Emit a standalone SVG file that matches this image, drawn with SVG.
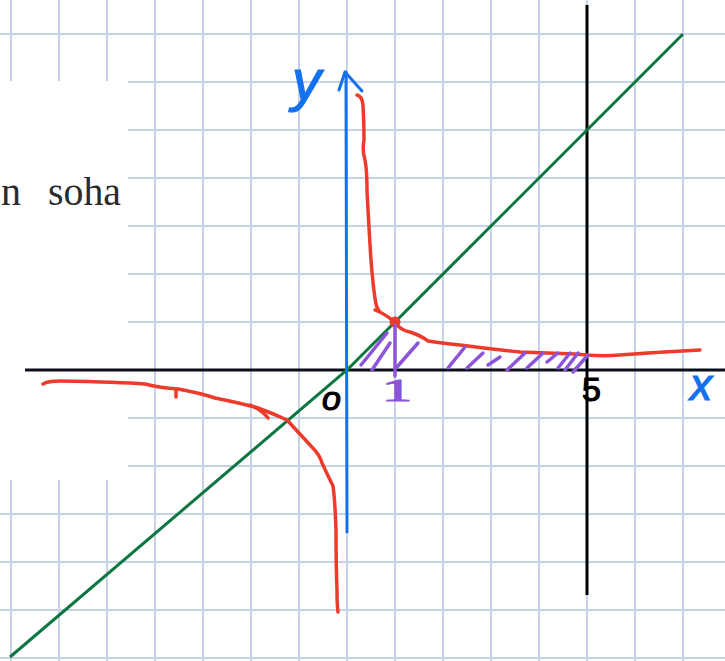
<svg xmlns="http://www.w3.org/2000/svg" width="725" height="661" viewBox="0 0 725 661">
<style>
.grid line{stroke:#c6d2e5;stroke-width:2}
.red{fill:none;stroke:#ec3a2b;stroke-width:3.5;stroke-linecap:round;stroke-linejoin:round}
.hatch{fill:none;stroke:#8c55d9;stroke-width:3.5;stroke-linecap:round}
.hand{font-family:"Liberation Sans","DejaVu Sans",sans-serif;stroke-width:1.2}
</style>
<rect width="725" height="661" fill="#ffffff"/>
<g id="grid" class="grid">
<line x1="11" y1="0" x2="11" y2="661"/><line x1="59" y1="0" x2="59" y2="661"/><line x1="107" y1="0" x2="107" y2="661"/><line x1="155" y1="0" x2="155" y2="661"/><line x1="203" y1="0" x2="203" y2="661"/><line x1="251" y1="0" x2="251" y2="661"/><line x1="299" y1="0" x2="299" y2="661"/><line x1="347" y1="0" x2="347" y2="661"/><line x1="395" y1="0" x2="395" y2="661"/><line x1="443" y1="0" x2="443" y2="661"/><line x1="491" y1="0" x2="491" y2="661"/><line x1="539" y1="0" x2="539" y2="661"/><line x1="587" y1="0" x2="587" y2="661"/><line x1="635" y1="0" x2="635" y2="661"/><line x1="683" y1="0" x2="683" y2="661"/>
<line x1="0" y1="34" x2="725" y2="34"/><line x1="0" y1="82" x2="725" y2="82"/><line x1="0" y1="130" x2="725" y2="130"/><line x1="0" y1="178" x2="725" y2="178"/><line x1="0" y1="226" x2="725" y2="226"/><line x1="0" y1="274" x2="725" y2="274"/><line x1="0" y1="322" x2="725" y2="322"/><line x1="0" y1="370" x2="725" y2="370"/><line x1="0" y1="418" x2="725" y2="418"/><line x1="0" y1="466" x2="725" y2="466"/><line x1="0" y1="514" x2="725" y2="514"/><line x1="0" y1="562" x2="725" y2="562"/><line x1="0" y1="610" x2="725" y2="610"/><line x1="0" y1="658" x2="725" y2="658"/>
</g>
<g id="paper-patch">
<rect x="0" y="81" width="128" height="399" fill="#ffffff"/>
<text x="1" y="205" font-family="'Liberation Serif',serif" font-size="40" fill="#2a2a2a">n</text>
<text x="48" y="205" font-family="'Liberation Serif',serif" font-size="40" fill="#2a2a2a" textLength="73" lengthAdjust="spacingAndGlyphs">soha</text>
</g>
<g id="lines">
<line id="x-axis" x1="25" y1="370" x2="725" y2="370" stroke="#0c0f1a" stroke-width="3"/>
<line id="x5" x1="587" y1="5" x2="587" y2="595" stroke="#000" stroke-width="3"/>
<polyline id="diag" points="10,657 347,370 683,34" fill="none" stroke="#0e7642" stroke-width="3"/>
<g id="y-axis" fill="none" stroke="#1471ee" stroke-width="3" stroke-linecap="round" stroke-linejoin="round">
<line x1="347" y1="532" x2="346" y2="72"/>
<polyline points="339,90 345,72 362,91"/>
</g>
</g>
<g id="hyperbola">
<path class="red" d="M357,95 Q362,96 363,105 Q364,125 364,140 Q362,150 365,160 Q367,170 367,190 Q369,230 371,260 Q373,285 375,298 Q376,308 380,312 M375,310 Q385,314 392,320 L397,325 Q403,331 410,332 Q420,335 428,341 Q440,343 460,345 Q490,349 520,352 Q550,353 575,354 Q600,357 620,355 Q660,352 700,350"/>
<circle cx="395" cy="322" r="5.5" fill="#ec3a2b"/>
<path class="red" d="M43,384 Q48,381 60,381 Q120,382 145,384 Q160,388 178,389 Q200,393 215,398 Q240,403 258,408 Q272,413 287,420 Q300,434 311,446 Q320,455 322,463 Q328,476 333,486 Q335,500 336,530 Q336,565 337,590 Q337,605 338,612"/>
<path class="red" d="M176,389 L176,397 M250,405 Q262,410 268,418"/>
</g>
<g id="hatching" class="hatch">
<line x1="361" y1="365" x2="387" y2="333"/>
<line x1="372" y1="370" x2="390" y2="343"/>
<line x1="397" y1="367" x2="418" y2="343"/>
<line x1="448" y1="368" x2="465" y2="347"/>
<line x1="467" y1="368" x2="483" y2="353"/>
<line x1="488" y1="365" x2="500" y2="357"/>
<line x1="507" y1="370" x2="525" y2="353"/>
<line x1="527" y1="368" x2="543" y2="353"/>
<line x1="547" y1="362" x2="558" y2="353"/>
<line x1="558" y1="368" x2="570" y2="353"/>
<line x1="565" y1="370" x2="578" y2="353"/>
<line x1="573" y1="372" x2="588" y2="355"/>
<line x1="395" y1="325" x2="395" y2="376"/>
</g>
<g id="labels" class="hand">
<text x="292" y="100" font-size="58" font-style="italic" fill="#1471ee" stroke="#1471ee">y</text>
<text x="322" y="410" font-size="34" font-style="italic" fill="#000" stroke="#000">o</text>
<text x="382" y="401" font-size="32" font-family="'Liberation Serif',serif" fill="#8c55d9" stroke="#8c55d9" textLength="30" lengthAdjust="spacingAndGlyphs">1</text>
<text x="582" y="401" font-size="34" fill="#000" stroke="#000">5</text>
<text x="690" y="400" font-size="44" font-style="italic" fill="#1471ee" stroke="#1471ee">x</text>
</g>
</svg>
